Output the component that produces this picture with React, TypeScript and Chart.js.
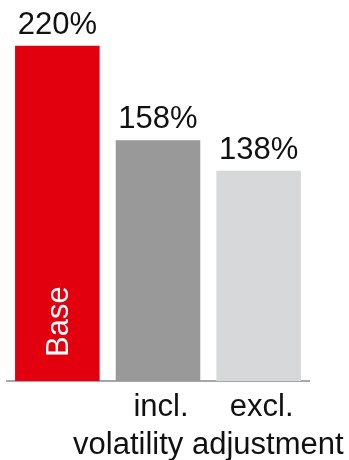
import React, { useEffect, useRef } from "react";
import { Chart, registerables } from "chart.js";

Chart.register(...registerables);

const categories = ["Base", "incl.", "excl."];
const values = [220, 158, 138];
const valueLabels = ["220%", "158%", "138%"];
const groupLabel = "volatility adjustment";
const barColors = ["#e2000f", "#999999", "#d7d8da"];

const FONT = "Liberation Sans, Arial, Helvetica, sans-serif";

const labelsPlugin = {
  id: "customLabels",
  afterDatasetsDraw(chart: any) {
    const ctx = chart.ctx;
    const meta = chart.getDatasetMeta(0);
    const xScale = chart.scales.x;
    const bottom = chart.chartArea.bottom;
    ctx.save();
    ctx.font = `31px ${FONT}`;
    ctx.fillStyle = "#111111";
    ctx.textAlign = "center";
    ctx.textBaseline = "alphabetic";
    meta.data.forEach((bar: any, i: number) => {
      ctx.fillText(valueLabels[i], bar.x, bar.y - 12);
    });
    // category labels below axis (except the first, drawn inside)
    for (let i = 1; i < categories.length; i++) {
      const x = xScale.getPixelForValue(i);
      ctx.fillText(categories[i], x + 3, bottom + 35);
    }
    const mid = (xScale.getPixelForValue(1) + xScale.getPixelForValue(2)) / 2;
    ctx.fillText(groupLabel, mid, bottom + 73);
    // rotated label inside first bar
    const b0 = meta.data[0];
    ctx.translate(b0.x + 11, bottom - 24);
    ctx.rotate(-Math.PI / 2);
    ctx.fillStyle = "#ffffff";
    ctx.textAlign = "left";
    ctx.fillText(categories[0], 0, 0);
    ctx.restore();
  },
};

export default function App() {
  const ref = useRef<HTMLCanvasElement | null>(null);
  useEffect(() => {
    if (!ref.current) return;
    const chart = new Chart(ref.current, {
      type: "bar",
      data: {
        labels: categories,
        datasets: [
          {
            data: values,
            backgroundColor: barColors,
            borderWidth: 0,
            barPercentage: 0.84,
            categoryPercentage: 1,
          },
        ],
      },
      options: {
        responsive: false,
        animation: false,
        layout: { padding: { left: 7, right: 40, top: 0, bottom: 71 } },
        plugins: { legend: { display: false }, tooltip: { enabled: false } },
        scales: {
          x: {
            grid: { display: false },
            ticks: { display: false },
            border: { display: true, color: "#a6a6a6", width: 2 },
          },
          y: {
            display: false,
            min: 0,
            max: 250,
          },
        },
      },
      plugins: [labelsPlugin],
    });
    return () => chart.destroy();
  }, []);
  return (
    <div style={{ position: "fixed", left: 0, top: 0, width: 349, height: 460, background: "#fff" }}>
      <canvas ref={ref} width={349} height={460} style={{ width: 349, height: 460 }} />
    </div>
  );
}
